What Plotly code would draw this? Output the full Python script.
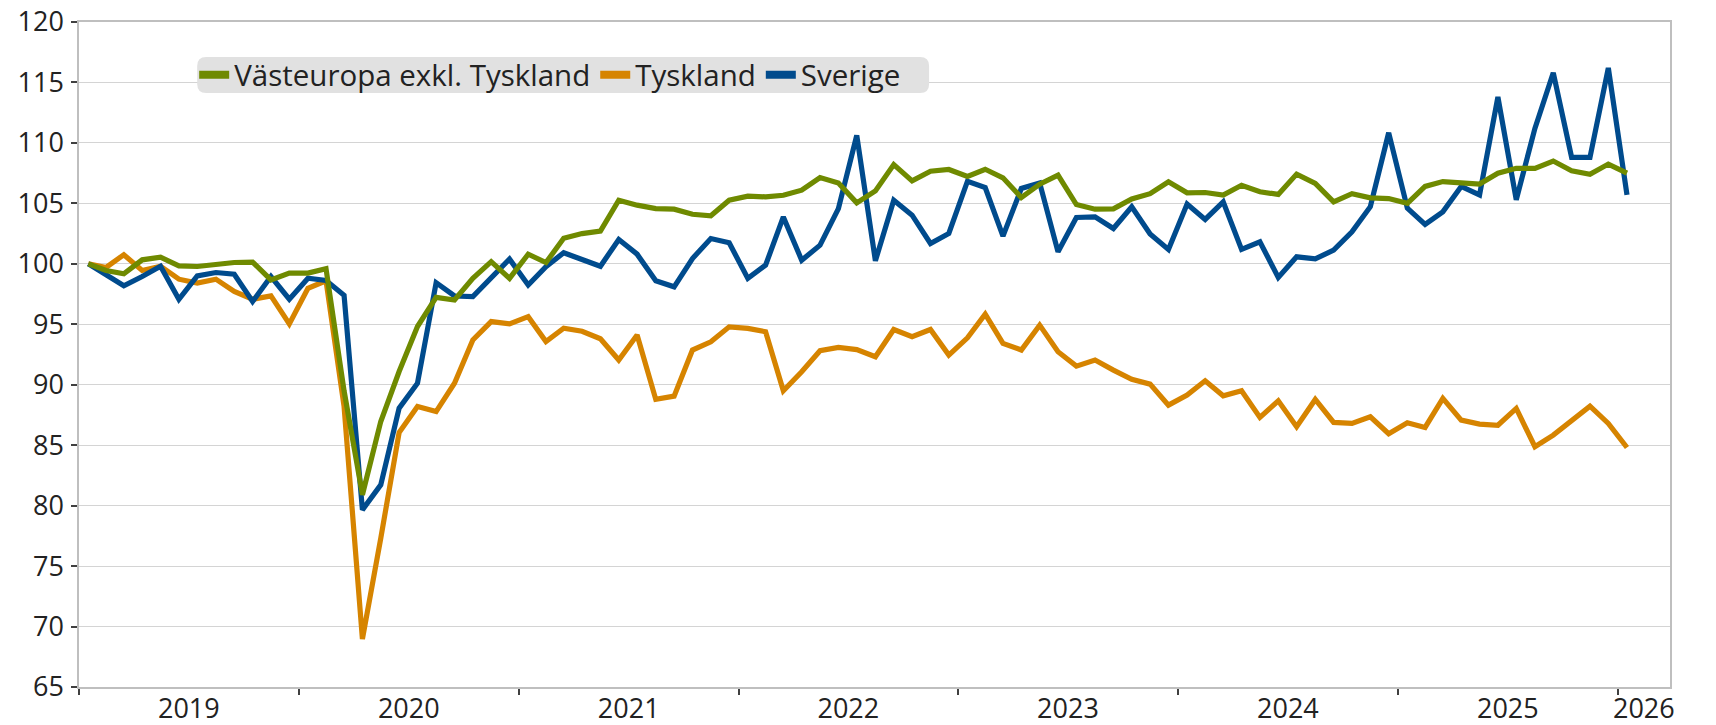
import pandas as pd
import plotly.graph_objects as go

# ---------------- data (monthly index, Jan 2019 = 100) ----------------
start_month = "2019-01-01"
n_months = 85

vasteuropa = [
    100.0, 99.45, 99.17, 100.33, 100.55, 99.83, 99.78, 99.97, 100.11, 100.14, 98.67, 99.23,
    99.23, 99.6, 89.5, 80.9, 86.96, 91.09, 94.81, 97.23, 97.01, 98.8, 100.18, 98.8,
    100.79, 100.1, 102.11, 102.5, 102.7, 105.26, 104.85, 104.57, 104.52, 104.1, 103.97, 105.26,
    105.59, 105.54, 105.67, 106.09, 107.13, 106.69, 105.04, 106.03, 108.21, 106.86, 107.66, 107.8,
    107.22, 107.82, 107.11, 105.48, 106.58, 107.33, 104.9, 104.52, 104.55, 105.37, 105.8, 106.78,
    105.87, 105.9, 105.68, 106.5, 105.96, 105.74, 107.42, 106.65, 105.13, 105.8, 105.46, 105.4,
    105.0, 106.4, 106.8, 106.7, 106.6, 107.5, 107.9, 107.9, 108.5, 107.7, 107.4, 108.25,
    107.5,
]

tyskland = [
    100.0, 99.7, 100.75, 99.45, 99.8, 98.73, 98.4, 98.73, 97.71, 97.07, 97.35, 95.03,
    97.98, 98.6, 88.2, 68.97, 77.3, 86.05, 88.2, 87.78, 90.12, 93.7, 95.22, 95.03,
    95.63, 93.57, 94.67, 94.42, 93.8, 92.04, 94.11, 88.79, 89.06, 92.87, 93.55, 94.79,
    94.66, 94.38, 89.5, 91.07, 92.81, 93.09, 92.9, 92.31, 94.57, 93.97, 94.57, 92.45,
    93.88, 95.84, 93.42, 92.87, 94.93, 92.73, 91.54, 92.04, 91.21, 90.45, 90.05, 88.31,
    89.14, 90.33, 89.08, 89.5, 87.3, 88.67, 86.52, 88.78, 86.88, 86.8, 87.35, 85.95,
    86.85, 86.47, 88.87, 87.07, 86.74, 86.65, 88.04, 84.87, 85.83, 87.07, 88.23, 86.8,
    84.81,
]

sverige = [
    100.0, 99.09, 98.18, 98.95, 99.8, 97.07, 99.0, 99.28, 99.14, 96.88, 98.95, 97.07,
    98.81, 98.62, 97.4, 79.65, 81.72, 88.06, 90.12, 98.44, 97.34, 97.29, 98.8, 100.39,
    98.25, 99.77, 100.92, 100.37, 99.8, 102.01, 100.8, 98.6, 98.1, 100.44, 102.09, 101.74,
    98.79, 99.89, 103.88, 100.3, 101.54, 104.57, 110.63, 100.25, 105.26, 104.02, 101.68, 102.51,
    106.83, 106.31, 102.29, 106.23, 106.69, 100.99, 103.83, 103.88, 102.92, 104.72, 102.46, 101.19,
    104.94, 103.67, 105.13, 101.19, 101.82, 98.87, 100.58, 100.41, 101.13, 102.65, 104.72, 110.84,
    104.6, 103.26, 104.3, 106.4, 105.7, 113.8, 105.3, 111.2, 115.8, 108.8, 108.8, 116.2,
    105.7,
]

series_names = ["Västeuropa exkl. Tyskland", "Tyskland", "Sverige"]
year_labels = ["2019", "2020", "2021", "2022", "2023", "2024", "2025", "2026"]

# ---------------- styling ----------------
C_GREEN = "#6F8A00"
C_ORANGE = "#D68400"
C_BLUE = "#004B8D"
TEXT = "#222222"
FONT = "Open Sans"
FS_TICK = 27
FS_LEG = 29.5

x_start = "2019-01-01"
x_end = "2026-03-29"

months = pd.date_range(start_month, periods=n_months, freq="MS")

year_starts = [pd.Timestamp(f"{y}-01-01") for y in year_labels]
x_end_ts = pd.Timestamp(x_end)
label_pos = []
for ys in year_starts:
    ye = min(pd.Timestamp(f"{ys.year + 1}-01-01"), x_end_ts)
    label_pos.append(ys + (ye - ys) / 2)

fig = go.Figure()

def add_line(y, color):
    fig.add_trace(go.Scatter(
        x=months, y=y, mode="lines", showlegend=False,
        xperiod="M1", xperiodalignment="middle",
        line=dict(color=color, width=5.2),
        hoverinfo="skip",
    ))

def add_legend_entry(name, color, rank):
    fig.add_trace(go.Scatter(
        x=[None], y=[None], mode="lines", name=name,
        line=dict(color=color, width=8), legendrank=rank,
    ))

add_line(tyskland, C_ORANGE)
add_line(sverige, C_BLUE)
add_line(vasteuropa, C_GREEN)
add_legend_entry(series_names[0], C_GREEN, 1)
add_legend_entry(series_names[1], C_ORANGE, 2)
add_legend_entry(series_names[2], C_BLUE, 3)

# page body has an 8px margin -> express geometry in figure coordinates
OFF = 8
W, H = 1716 - OFF, 725 - OFF
plot_l, plot_r, plot_t, plot_b = 78.8 - OFF, 1670 - OFF, 21.9 - OFF, 687.5 - OFF
ML, MR, MT, MB = plot_l, W - plot_r, plot_t, H - plot_b
pw = plot_r - plot_l
ph = plot_b - plot_t

def px_to_paper_x(px):
    return (px - OFF - plot_l) / pw

def px_to_paper_y(py):
    return (plot_b - (py - OFF)) / ph

# rounded legend background (given in screen px)
bx0, bx1, by0, by1 = 197, 929, 57, 93
x0, x1 = px_to_paper_x(bx0), px_to_paper_x(bx1)
y0, y1 = px_to_paper_y(by1), px_to_paper_y(by0)
rx = 9 / pw
ry = 9 / ph
path = (
    f"M {x0+rx},{y0} L {x1-rx},{y0} Q {x1},{y0} {x1},{y0+ry} "
    f"L {x1},{y1-ry} Q {x1},{y1} {x1-rx},{y1} L {x0+rx},{y1} "
    f"Q {x0},{y1} {x0},{y1-ry} L {x0},{y0+ry} Q {x0},{y0} {x0+rx},{y0} Z"
)
fig.add_shape(type="path", path=path, xref="paper", yref="paper",
              fillcolor="#E1E1E1", line=dict(width=0), layer="above")

fig.update_layout(
    width=W, height=H,
    margin=dict(l=ML, r=MR, t=MT, b=MB, pad=0),
    paper_bgcolor="white", plot_bgcolor="white",
    font=dict(family=FONT, size=FS_TICK, color=TEXT),
    showlegend=True,
    legend=dict(
        orientation="h",
        x=px_to_paper_x(199 - 5), xanchor="left",
        y=px_to_paper_y(75), yanchor="middle",
        bgcolor="rgba(0,0,0,0)",
        font=dict(family=FONT, size=FS_LEG, color=TEXT),
        itemwidth=30,
        tracegroupgap=0,
    ),
    xaxis=dict(
        type="date",
        range=[x_start, x_end],
        tickmode="array",
        tickvals=label_pos,
        ticktext=year_labels,
        ticks="",
        showgrid=False,
        showline=True, linecolor="#BFBFBF", linewidth=1.5, mirror=True,
        tickfont=dict(family=FONT, size=FS_TICK, color=TEXT),
        ticklabelstandoff=-3,
        ticklabeloverflow="allow",
        minor=dict(
            tickmode="array",
            tickvals=year_starts,
            ticks="outside", ticklen=6, tickwidth=1.5, tickcolor="#404040",
            showgrid=False,
        ),
        zeroline=False,
        automargin=False,
        fixedrange=True,
    ),
    yaxis=dict(
        range=[65, 120],
        tickmode="linear", tick0=65, dtick=5,
        showgrid=True, gridcolor="#D4D4D4", gridwidth=1.2,
        showline=True, linecolor="#BFBFBF", linewidth=1.5, mirror=True,
        ticks="outside", ticklen=6, tickwidth=1.5, tickcolor="#404040",
        tickfont=dict(family=FONT, size=FS_TICK, color=TEXT),
        ticklabelstandoff=2,
        ticklabeloverflow="allow",
        zeroline=False,
        automargin=False,
        fixedrange=True,
    ),
)

fig.write_html("out.html")
